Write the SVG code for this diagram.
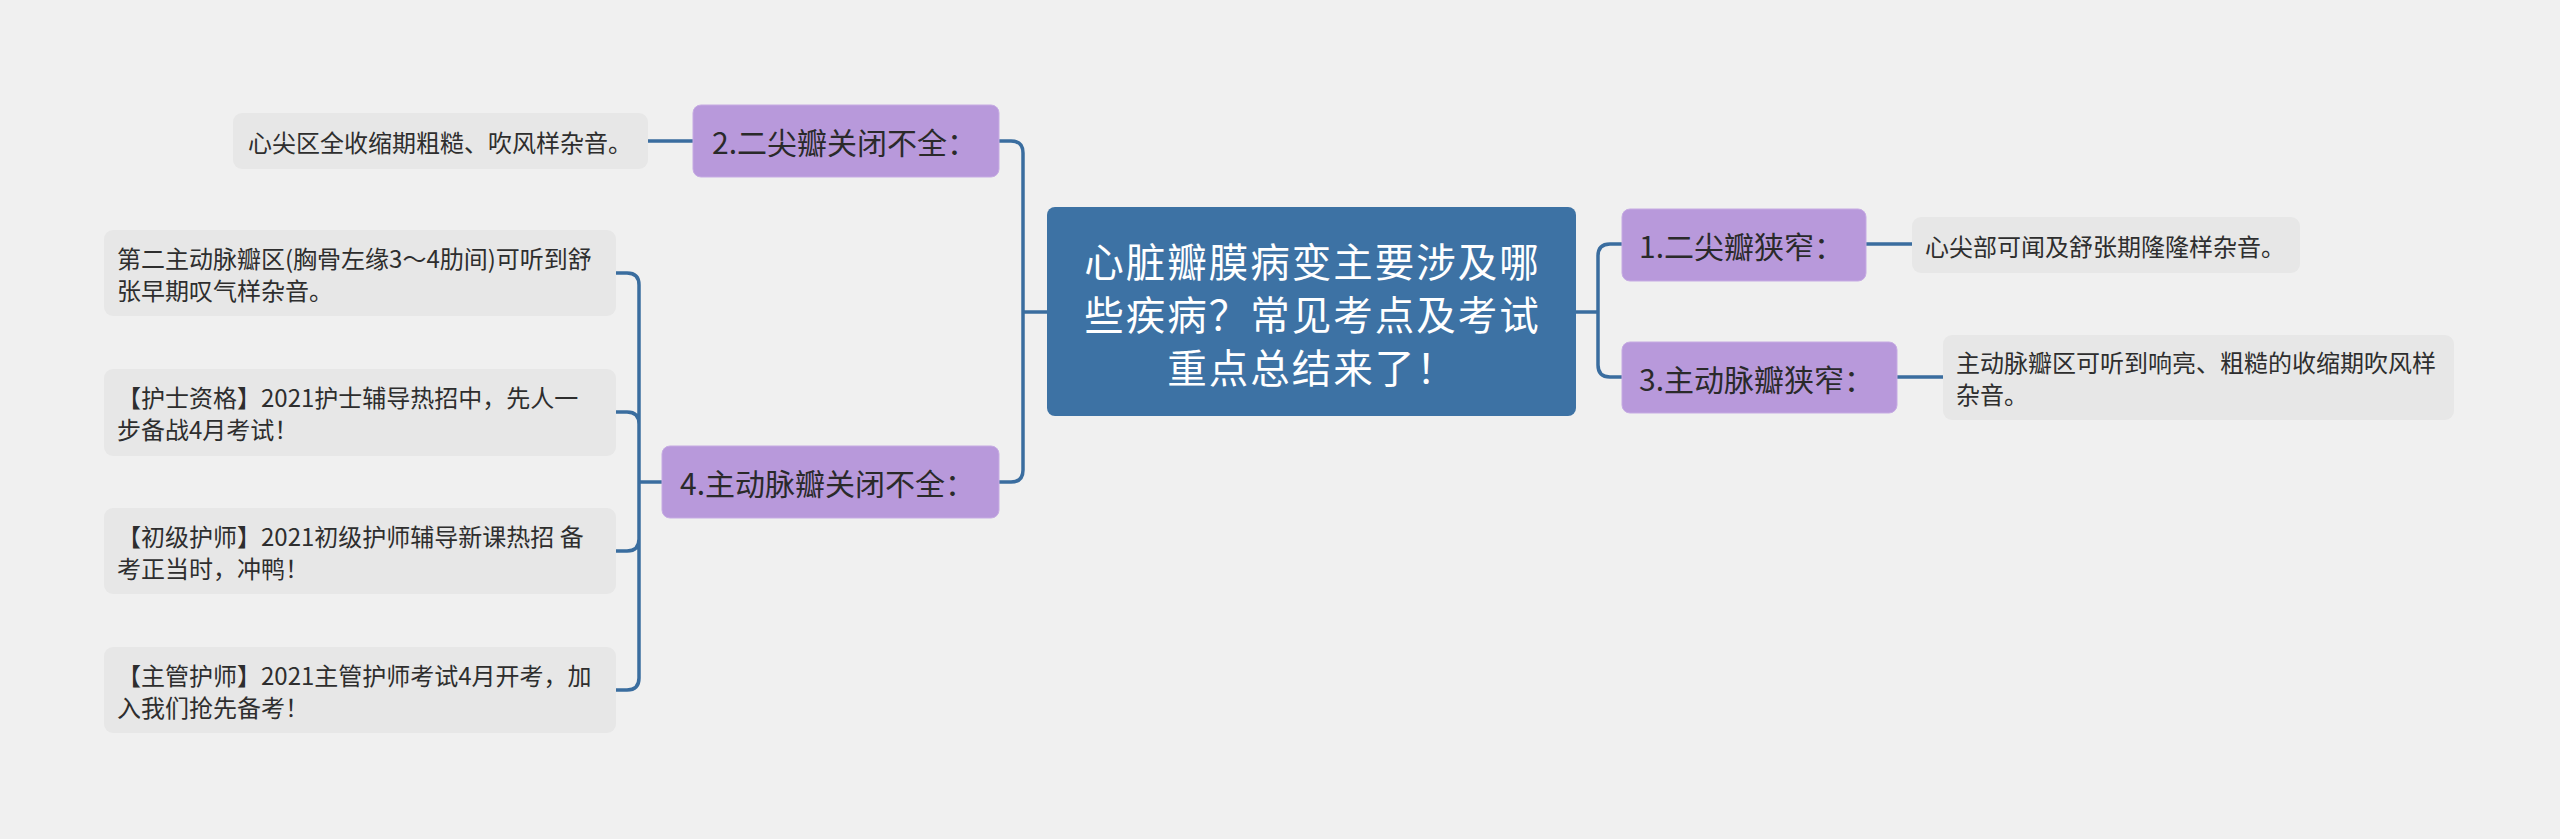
<svg xmlns="http://www.w3.org/2000/svg" width="2560" height="839" viewBox="0 0 2560 839">
<style>
text{font-family:"Noto Sans CJK SC","Noto Sans",sans-serif;dominant-baseline:central}
.root rect{fill:#3d72a4}
.root text{fill:#ffffff;font-size:39.5px;letter-spacing:2px;text-anchor:middle}
.main rect{fill:#b899db;stroke:#c6abe3;stroke-width:1}
.main text{fill:#2a2a2a;font-size:30px}
.leaf rect{fill:#e7e7e7}
.leaf text{fill:#2e2e2e;font-size:24px}
.links path{fill:none;stroke:#3a6d9f;stroke-width:3.5}
</style>
<rect width="2560" height="839" fill="#f0f0f0"/>
<g class="links">
<path d="M1576,312 H1598 M1598,312 V256 Q1598,244 1610,244 H1622 M1598,312 V365 Q1598,377 1610,377 H1622"/>
<path d="M1047,312 H1023 M1023,312 V153 Q1023,141 1011,141 H993 M1023,312 V470 Q1023,482 1011,482 H999"/>
<path d="M1866,244 H1912"/>
<path d="M1897,377 H1943"/>
<path d="M693,141 H648"/>
<path d="M662,482 H639 M639,482 V285 Q639,273 627,273 H616 M639,482 V424 Q639,412 627,412 H616 M639,482 V539 Q639,551 627,551 H616 M639,482 V678 Q639,690 627,690 H616"/>
</g>
<g id="root" class="root">
<rect x="1047" y="207" width="529" height="209" rx="8"/>
<text x="1312.5" y="259">心脏瓣膜病变主要涉及哪</text>
<text x="1312.5" y="312">些疾病？常见考点及考试</text>
<text x="1312.5" y="365">重点总结来了！</text>
</g>
<g id="n1" class="main">
<rect x="1622" y="209" width="244" height="72" rx="8"/>
<text x="1639" y="245">1.二尖瓣狭窄：</text>
</g>
<g id="n3" class="main">
<rect x="1622" y="342" width="275" height="71" rx="8"/>
<text x="1639" y="377.5">3.主动脉瓣狭窄：</text>
</g>
<g id="n2" class="main">
<rect x="693" y="105" width="306" height="72" rx="8"/>
<text x="712" y="141">2.二尖瓣关闭不全：</text>
</g>
<g id="n4" class="main">
<rect x="662" y="446" width="337" height="72" rx="8"/>
<text x="680" y="482">4.主动脉瓣关闭不全：</text>
</g>
<g id="l1" class="leaf">
<rect x="1912" y="217" width="388" height="56" rx="9"/>
<text x="1925" y="245">心尖部可闻及舒张期隆隆样杂音。</text>
</g>
<g id="l3" class="leaf">
<rect x="1943" y="335" width="511" height="85" rx="9"/>
<text x="1956" y="361.5">主动脉瓣区可听到响亮、粗糙的收缩期吹风样</text>
<text x="1956" y="393.5">杂音。</text>
</g>
<g id="l2" class="leaf">
<rect x="233" y="113" width="415" height="56" rx="9"/>
<text x="248" y="141">心尖区全收缩期粗糙、吹风样杂音。</text>
</g>
<g id="l4a" class="leaf">
<rect x="104" y="230" width="512" height="86" rx="9"/>
<text x="117" y="257">第二主动脉瓣区(胸骨左缘3～4肋间)可听到舒</text>
<text x="117" y="289">张早期叹气样杂音。</text>
</g>
<g id="l4b" class="leaf">
<rect x="104" y="369" width="512" height="87" rx="9"/>
<text x="117" y="396">【护士资格】2021护士辅导热招中，先人一</text>
<text x="117" y="428">步备战4月考试！</text>
</g>
<g id="l4c" class="leaf">
<rect x="104" y="508" width="512" height="86" rx="9"/>
<text x="117" y="535">【初级护师】2021初级护师辅导新课热招 备</text>
<text x="117" y="567">考正当时，冲鸭！</text>
</g>
<g id="l4d" class="leaf">
<rect x="104" y="647" width="512" height="86" rx="9"/>
<text x="117" y="674">【主管护师】2021主管护师考试4月开考，加</text>
<text x="117" y="706">入我们抢先备考！</text>
</g>
</svg>
